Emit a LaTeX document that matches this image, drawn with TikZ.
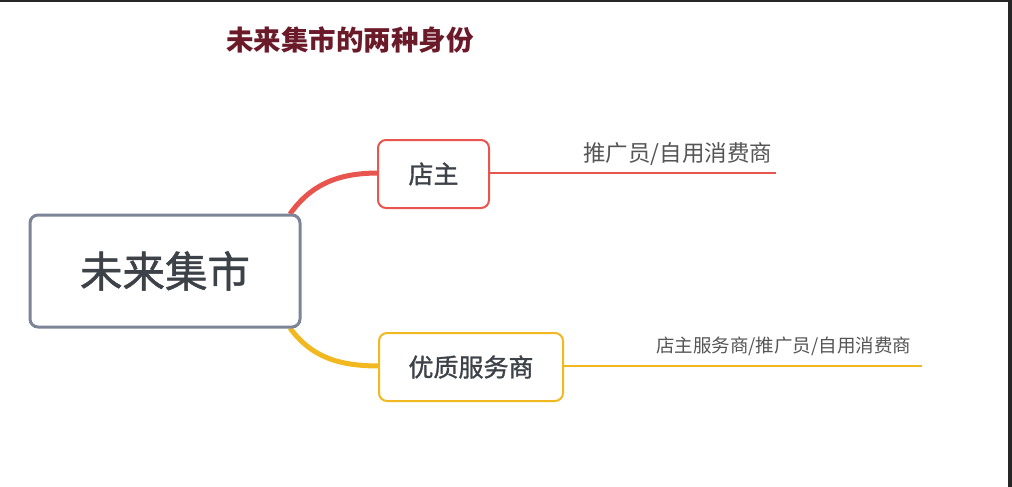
\documentclass[tikz,border=0pt]{standalone}
\usepackage{fontspec}
\newfontfamily\cjk{Noto Sans CJK SC}
\newfontfamily\cjkm[FakeBold=1.2]{Noto Sans CJK SC}
\definecolor{txt}{HTML}{3D4148}
\definecolor{gborder}{HTML}{7B8597}
\definecolor{redc}{HTML}{E8554E}
\definecolor{yelc}{HTML}{F2B820}
\definecolor{titlec}{HTML}{6B1A2A}
\definecolor{labc}{HTML}{555555}
\tikzset{
  box/.style={draw, rounded corners=8pt, fill=white, text=txt, inner sep=0pt, line width=2pt},
  lab/.style={text=labc, inner sep=0pt, anchor=base west},
}
\begin{document}
\begin{tikzpicture}[x=1pt,y=-1pt]
\useasboundingbox (0,0) rectangle (1012,487);
\fill[black!85] (0,0) rectangle (1012,2);
\fill[black!85] (1008,0) rectangle (1012,487);
\node[text=titlec, font=\cjk\bfseries\fontsize{27.5}{30}\selectfont] (title) at (350,40) {未来集市的两种身份};
% connectors
\coordinate (r0) at (290,214);
\coordinate (y0) at (290,328);
\draw[redc, line width=5pt] (r0) .. controls (312,183) and (340,173) .. (379,173);
\draw[yelc, line width=5pt] (y0) .. controls (312,358) and (340,366) .. (380,366);
\node[box, draw=gborder, line width=3pt, minimum width=270pt, minimum height=112pt, font=\cjkm\fontsize{42.5}{46}\selectfont] (main) at (165,271) {未来集市};
\node[box, draw=redc, minimum width=111pt, minimum height=68pt, font=\cjkm\fontsize{25}{28}\selectfont] (dz) at (433.5,174) {店主};
\node[box, draw=yelc, minimum width=184pt, minimum height=68pt, font=\cjkm\fontsize{25}{28}\selectfont] (fw) at (471,367) {优质服务商};
\coordinate (re) at (776,173);
\coordinate (ye) at (922,366);
\draw[redc, line width=2pt] (dz.east |- re) -- (re);
\draw[yelc, line width=2pt] (fw.east |- ye) -- (ye);
\node[lab, font=\cjk\fontsize{22.5}{25}\selectfont] (l1) at (583,161) {推广员/自用消费商};
\node[lab, font=\cjk\fontsize{18.5}{21}\selectfont] (l2) at (656,352) {店主服务商/推广员/自用消费商};
\end{tikzpicture}
\end{document}
